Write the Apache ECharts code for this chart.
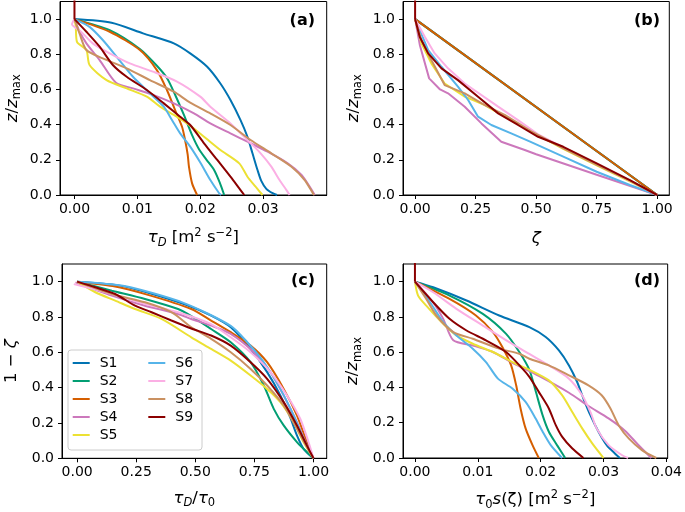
<!DOCTYPE html>
<html>
<head>
<meta charset="utf-8">
<script src="https://cdn.jsdelivr.net/npm/echarts@6/dist/echarts.min.js"></script>
<style>
html, body { margin: 0; padding: 0; background: #fff; }
#chart { width: 685px; height: 512px; }
</style>
</head>
<body>
<div id="chart"></div>
<script>
var names = ['S1', 'S2', 'S3', 'S4', 'S5', 'S6', 'S7', 'S8', 'S9'];
var colors = ['#0173b2', '#029e73', '#d55e00', '#cc78bc', '#ece133', '#56b4e9', '#fbafe4', '#ca9161', '#8b0000'];

// tick labels
var ticksTau = [0, 0.01, 0.02, 0.03];
var ticksTau0 = [0, 0.01, 0.02, 0.03, 0.04];
var ticksUnit = [0, 0.25, 0.5, 0.75, 1];
var ticksZ = [0, 0.2, 0.4, 0.6, 0.8, 1.0];

// vertical stub above the surface, drawn in S9 colour in (a), (b), (d)
var topStub = [[0, 1], [0, 1.15]];

// (a) tau_D vs z/zmax
var A1 = [[0,1],[0.0059,0.979],[0.0109,0.919],[0.0158,0.862],[0.0184,0.805],[0.0211,0.729],[0.0232,0.634],[0.0248,0.54],[0.0264,0.426],[0.0275,0.331],[0.0283,0.237],[0.0291,0.142],[0.0297,0.08],[0.0305,0.035],[0.0315,0.01],[0.0322,0]];
var A2 = [[0,1],[0.0056,0.937],[0.0104,0.83],[0.0131,0.735],[0.0147,0.665],[0.016,0.57],[0.0174,0.455],[0.0187,0.34],[0.0198,0.26],[0.021,0.2],[0.0222,0.142],[0.0231,0.07],[0.0238,0]];
var A3 = [[0,1],[0.0056,0.928],[0.0104,0.824],[0.0131,0.71],[0.0147,0.597],[0.016,0.483],[0.0171,0.388],[0.0176,0.31],[0.018,0.23],[0.0182,0.161],[0.0187,0.066],[0.0195,0]];
var A4 = [[0,1],[0.0008,0.93],[0.0019,0.862],[0.004,0.767],[0.0066,0.638],[0.0093,0.606],[0.0126,0.568],[0.0158,0.521],[0.019,0.464],[0.0216,0.407],[0.0248,0.35],[0.0275,0.303],[0.0307,0.246],[0.0339,0.18],[0.0361,0.114],[0.0374,0.047],[0.0382,0]];
var A5 = [[0,1],[0.0002,0.96],[0.0004,0.871],[0.0019,0.824],[0.0024,0.739],[0.0051,0.653],[0.0083,0.606],[0.0115,0.559],[0.0136,0.502],[0.0158,0.455],[0.0179,0.407],[0.0206,0.331],[0.0232,0.256],[0.0262,0.18],[0.0275,0.104],[0.0288,0.047],[0.0299,0]];
var A6 = [[0,1],[0.0024,0.956],[0.0045,0.881],[0.0069,0.777],[0.0093,0.672],[0.012,0.578],[0.0142,0.502],[0.0155,0.426],[0.0168,0.35],[0.0184,0.275],[0.02,0.185],[0.0216,0.085],[0.023,0.01],[0.0233,0]];
var A7 = [[0,1],[-0.0004,0.97],[0.001,0.93],[0.0029,0.862],[0.0056,0.805],[0.0088,0.748],[0.0126,0.7],[0.0163,0.645],[0.02,0.559],[0.0216,0.502],[0.0248,0.407],[0.0275,0.3125],[0.0296,0.237],[0.0313,0.161],[0.0326,0.085],[0.0337,0.028],[0.0342,0]];
var A8 = [[0,1],[0.0008,0.919],[0.0019,0.824],[0.0045,0.777],[0.0083,0.72],[0.012,0.653],[0.0158,0.587],[0.0184,0.525],[0.0216,0.464],[0.0248,0.398],[0.028,0.3125],[0.0313,0.237],[0.0345,0.161],[0.0366,0.085],[0.0379,0.01],[0.0381,0]];
var A9 = [[0,1],[0.0019,0.928],[0.004,0.843],[0.0061,0.739],[0.0083,0.672],[0.0115,0.597],[0.0142,0.521],[0.0168,0.445],[0.0184,0.398],[0.0206,0.294],[0.0227,0.199],[0.0248,0.104],[0.0264,0.028],[0.027,0]];

// (b) zeta vs z/zmax
var B1 = [[0,1],[1,0]];
var B2 = [[0,1],[1,0]];
var B3 = [[0,1],[1,0]];
var B4 = [[0,1],[0.02,0.85],[0.058,0.663],[0.103,0.6],[0.136,0.578],[0.205,0.502],[0.274,0.407],[0.356,0.303],[0.453,0.256],[0.5,0.232],[0.75,0.115],[1,0]];
var B5 = [[0,1],[0.026,0.862],[0.067,0.748],[0.122,0.634],[0.205,0.559],[0.288,0.511],[0.37,0.445],[0.48,0.36],[0.612,0.262],[0.75,0.168],[0.887,0.078],[1,0]];
var B6 = [[0,1],[0.054,0.824],[0.109,0.729],[0.177,0.616],[0.219,0.54],[0.26,0.445],[0.315,0.398],[0.397,0.35],[0.475,0.303],[0.612,0.218],[0.75,0.132],[0.887,0.057],[1,0]];
var B7 = [[0,1],[0.04,0.9],[0.081,0.805],[0.136,0.72],[0.205,0.634],[0.343,0.502],[0.425,0.426],[0.508,0.345],[0.612,0.27],[0.75,0.175],[0.887,0.082],[1,0]];
var B8 = [[0,1],[0.026,0.88],[0.067,0.767],[0.122,0.625],[0.205,0.578],[0.288,0.511],[0.37,0.455],[0.48,0.362],[0.612,0.265],[0.75,0.172],[0.887,0.082],[1,0]];
var B9 = [[0,1],[0.019,0.9],[0.054,0.805],[0.109,0.72],[0.177,0.653],[0.26,0.559],[0.343,0.464],[0.425,0.398],[0.508,0.331],[0.612,0.274],[0.75,0.18],[0.887,0.085],[1,0]];

// (c) tau_D/tau_0 vs 1 - zeta
var C1 = [[0,1],[0.175,0.979],[0.315,0.932],[0.455,0.872],[0.567,0.808],[0.65,0.742],[0.734,0.619],[0.804,0.488],[0.86,0.356],[0.902,0.23],[0.93,0.13],[0.96,0.05],[1,0]];
var C2 = [[0,1],[0.147,0.949],[0.287,0.902],[0.427,0.845],[0.483,0.805],[0.567,0.732],[0.65,0.657],[0.734,0.544],[0.79,0.412],[0.832,0.28],[0.874,0.186],[0.93,0.092],[0.972,0.036],[1,0]];
var C3 = [[0,1],[0.15,0.975],[0.3,0.925],[0.483,0.845],[0.567,0.78],[0.65,0.714],[0.734,0.638],[0.804,0.544],[0.874,0.393],[0.93,0.243],[0.972,0.092],[1,0]];
var C4 = [[-0.007,0.996],[0.147,0.921],[0.287,0.864],[0.427,0.817],[0.483,0.789],[0.567,0.751],[0.65,0.704],[0.748,0.6],[0.818,0.488],[0.874,0.356],[0.93,0.205],[0.972,0.073],[1,0]];
var C5 = [[0,1],[0.077,0.94],[0.161,0.893],[0.245,0.845],[0.357,0.789],[0.483,0.685],[0.567,0.619],[0.65,0.553],[0.734,0.469],[0.804,0.393],[0.86,0.318],[0.916,0.205],[0.958,0.092],[1,0]];
var C6 = [[0,1],[0.2,0.975],[0.45,0.88],[0.65,0.75],[0.72,0.657],[0.79,0.544],[0.86,0.393],[0.916,0.243],[0.958,0.111],[1,0]];
var C7 = [[-0.014,0.986],[0.147,0.93],[0.287,0.874],[0.427,0.827],[0.567,0.76],[0.65,0.685],[0.734,0.6],[0.818,0.488],[0.888,0.356],[0.944,0.224],[0.979,0.092],[1,0]];
var C8 = [[0,1],[0.147,0.93],[0.287,0.883],[0.399,0.827],[0.483,0.742],[0.567,0.676],[0.65,0.6],[0.734,0.506],[0.804,0.412],[0.874,0.299],[0.93,0.167],[0.972,0.064],[1,0]];
var C9 = [[0,1],[0.077,0.968],[0.161,0.93],[0.245,0.864],[0.315,0.827],[0.399,0.78],[0.483,0.735],[0.567,0.695],[0.65,0.638],[0.734,0.544],[0.804,0.45],[0.874,0.318],[0.93,0.186],[0.972,0.073],[1,0]];

// (d) tau_0 s(zeta) vs z/zmax
var D1 = [[0,1],[0.0029,0.968],[0.0082,0.893],[0.0134,0.808],[0.0182,0.742],[0.0208,0.686],[0.0229,0.61],[0.0245,0.525],[0.0258,0.431],[0.0268,0.337],[0.0279,0.243],[0.0292,0.149],[0.0305,0.073],[0.0318,0.026],[0.0326,0]];
var D2 = [[0,1],[0.0055,0.921],[0.0108,0.817],[0.0145,0.704],[0.0166,0.601],[0.0182,0.5],[0.0192,0.38],[0.0203,0.243],[0.0213,0.149],[0.0226,0.073],[0.0239,0]];
var D3 = [[0,1],[0.0055,0.902],[0.0097,0.808],[0.0124,0.714],[0.0139,0.629],[0.0153,0.525],[0.0161,0.412],[0.0168,0.281],[0.0176,0.168],[0.0187,0.073],[0.0197,0]];
var D4 = [[0,1],[0.0029,0.883],[0.0045,0.789],[0.0061,0.667],[0.0092,0.638],[0.0124,0.601],[0.0155,0.54],[0.0197,0.465],[0.0245,0.37],[0.0276,0.295],[0.0308,0.225],[0.0334,0.155],[0.0355,0.075],[0.0376,0]];
var D5 = [[0,1],[0.0005,0.921],[0.0018,0.864],[0.0045,0.761],[0.0066,0.695],[0.0092,0.648],[0.0124,0.601],[0.0155,0.544],[0.0182,0.5],[0.0213,0.44],[0.0234,0.356],[0.025,0.262],[0.0266,0.168],[0.0282,0.083],[0.03,0]];
var D6 = [[0,1],[0.0024,0.883],[0.0045,0.77],[0.0066,0.695],[0.0092,0.62],[0.0113,0.544],[0.0132,0.45],[0.0155,0.394],[0.0176,0.318],[0.0192,0.224],[0.0203,0.15],[0.0216,0.073],[0.0234,0]];
var D7 = [[0,1],[0.0029,0.94],[0.0066,0.846],[0.0108,0.751],[0.015,0.657],[0.0182,0.59],[0.0213,0.525],[0.0245,0.45],[0.0266,0.356],[0.0279,0.262],[0.0289,0.168],[0.0308,0.073],[0.0329,0.017],[0.0339,0]];
var D8 = [[0,1],[0.0018,0.902],[0.0034,0.808],[0.0061,0.714],[0.0092,0.676],[0.0134,0.62],[0.0166,0.591],[0.0182,0.563],[0.0213,0.525],[0.0245,0.469],[0.0276,0.412],[0.0297,0.356],[0.0311,0.281],[0.0324,0.186],[0.034,0.111],[0.0361,0.045],[0.0384,0]];
var D9 = [[0,1],[0.0029,0.883],[0.0055,0.789],[0.0082,0.723],[0.0113,0.667],[0.0145,0.601],[0.0171,0.507],[0.0182,0.46],[0.0197,0.375],[0.0213,0.281],[0.0224,0.186],[0.0234,0.121],[0.025,0.055],[0.0268,0]];

var panels = [
    [A1, A2, A3, A4, A5, A6, A7, A8, A9],
    [B1, B2, B3, B4, B5, B6, B7, B8, B9],
    [C1, C2, C3, C4, C5, C6, C7, C8, C9],
    [D1, D2, D3, D4, D5, D6, D7, D8, D9]
];
// smoothing per panel: b is drawn as plain polylines
var smoothing = [0.25, 0, 0.25, 0.25];

var font = 'DejaVu Sans';
var rich = {
    it: { fontFamily: font, fontSize: 16.5, fontStyle: 'italic', color: '#000', lineHeight: 22 },
    sub: { fontFamily: font, fontSize: 11.5, fontStyle: 'italic', color: '#000', verticalAlign: 'bottom', lineHeight: 11.5 },
    subr: { fontFamily: font, fontSize: 11.5, color: '#000', verticalAlign: 'bottom', lineHeight: 11.5 },
    sup: { fontFamily: font, fontSize: 11.5, color: '#000', verticalAlign: 'top', lineHeight: 11.5 }
};

function makeX(idx, min, max, ticks, name, gap) {
    return {
        type: 'value', gridIndex: idx, min: min, max: max,
        name: name, nameLocation: 'middle', nameGap: gap,
        nameTextStyle: { fontFamily: font, fontSize: 16.5, color: '#000', lineHeight: 22, rich: rich },
        axisLine: { show: true, onZero: false, lineStyle: { color: '#000', width: 1 } },
        axisTick: { show: true, length: 4, customValues: ticks, lineStyle: { color: '#000', width: 1 } },
        axisLabel: { customValues: ticks, margin: 7, fontFamily: font, fontSize: 14, color: '#000',
            formatter: function (v) { return v.toFixed(2); } },
        splitLine: { show: false }
    };
}

function makeY(idx, name, gap) {
    return {
        type: 'value', gridIndex: idx, min: 0, max: 1.1, interval: 0.2,
        name: name, nameLocation: 'middle', nameGap: gap,
        nameTextStyle: { fontFamily: font, fontSize: 16.5, color: '#000', lineHeight: 22, rich: rich },
        axisLine: { show: true, onZero: false, lineStyle: { color: '#000', width: 1 } },
        axisTick: { show: true, length: 4, customValues: ticksZ, lineStyle: { color: '#000', width: 1 } },
        axisLabel: { customValues: ticksZ, margin: 8, fontFamily: font, fontSize: 14, color: '#000',
            formatter: function (v) { return v.toFixed(1); } },
        splitLine: { show: false }
    };
}

var series = [];
panels.forEach(function (p, idx) {
    p.forEach(function (d, i) {
        series.push({
            name: names[i], type: 'line', xAxisIndex: idx, yAxisIndex: idx,
            data: d, symbol: 'none', showSymbol: false, animation: false,
            smooth: smoothing[idx],
            lineStyle: { width: 2, color: colors[i] }, itemStyle: { color: colors[i] }
        });
    });
    if (idx !== 2) {
        series.push({
            name: 'S9', type: 'line', xAxisIndex: idx, yAxisIndex: idx,
            data: topStub, symbol: 'none', showSymbol: false, animation: false,
            lineStyle: { width: 2, color: colors[8] }, itemStyle: { color: colors[8] }
        });
    }
});

var gridStyle = { show: true, borderColor: '#000', borderWidth: 1, backgroundColor: '#fff' };

function panelLabel(txt, x, y) {
    return { type: 'text', x: x, y: y, z: 10,
        style: { text: txt, align: 'right', verticalAlign: 'middle', fill: '#000',
            font: 'bold 16px "DejaVu Sans"' } };
}

var legendCommon = {
    orient: 'vertical', padding: 0, itemWidth: 17, itemHeight: 2, itemGap: 4,
    icon: 'rect', z: 5,
    textStyle: { fontFamily: font, fontSize: 14, color: '#000', lineHeight: 14, padding: [0, 0, 0, 5] }
};

var chart = echarts.init(document.getElementById('chart'));
chart.setOption({
    animation: false,
    grid: [
        Object.assign({ left: 60, top: 1.5, width: 266.7, height: 193.5 }, gridStyle),
        Object.assign({ left: 403, top: 1.5, width: 266.3, height: 193.5 }, gridStyle),
        Object.assign({ left: 60, top: 264, width: 266.7, height: 194.3 }, gridStyle),
        Object.assign({ left: 403, top: 264, width: 266.3, height: 194.3 }, gridStyle)
    ],
    xAxis: [
        makeX(0, -0.0023, 0.0401, ticksTau, '{it|τ}{sub|D} [m{sup|2} s{sup|−2}]', 32),
        makeX(1, -0.05, 1.05, ticksUnit, '{it|ζ}', 33),
        makeX(2, -0.064, 1.056, ticksUnit, '{it|τ}{sub|D}/{it|τ}{subr|0}', 29),
        makeX(3, -0.0019, 0.0402, ticksTau0, '{it|τ}{subr|0}{it|s}(ζ) [m{sup|2} s{sup|−2}]', 31)
    ],
    yAxis: [
        makeY(0, '{it|z}/{it|z}{subr|max}', 36.5),
        makeY(1, '{it|z}/{it|z}{subr|max}', 38.5),
        makeY(2, '1 − {it|ζ}', 39),
        makeY(3, '{it|z}/{it|z}{subr|max}', 39)
    ],
    legend: [
        Object.assign({ left: 72.7, top: 356, data: names.slice(0, 5) }, legendCommon),
        Object.assign({ left: 148.3, top: 356, data: names.slice(5) }, legendCommon)
    ],
    graphic: [
        { type: 'rect', z: 3, shape: { x: 68, y: 350, width: 134, height: 100, r: 3 },
          style: { fill: 'rgba(255,255,255,0.8)', stroke: '#cccccc', lineWidth: 1 } },
        panelLabel('(a)', 315, 20.5),
        panelLabel('(b)', 660, 20.5),
        panelLabel('(c)', 315, 280.5),
        panelLabel('(d)', 660, 281)
    ],
    series: series
});
</script>
</body>
</html>
